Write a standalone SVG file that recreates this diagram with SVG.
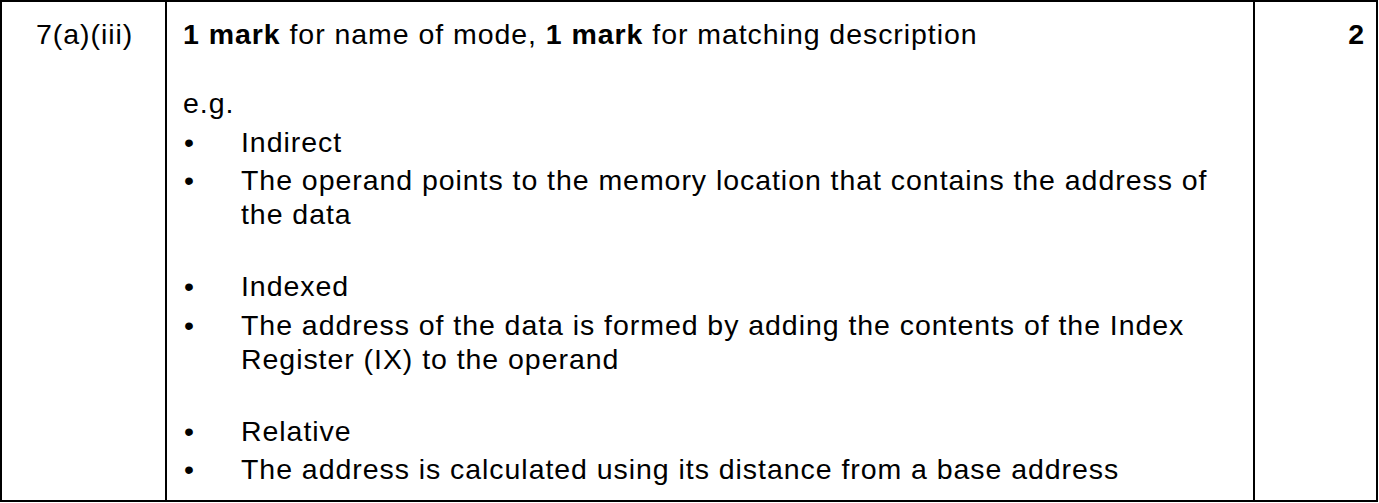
<svg xmlns="http://www.w3.org/2000/svg" width="1379" height="503" viewBox="0 0 1379 503">
<style>
text{font-family:"Liberation Sans",Arial,sans-serif;font-size:28.5px;letter-spacing:0.95px;fill:#000}
.b{font-weight:bold}
line{stroke:#000;stroke-width:2}
</style>
<rect x="0" y="0" width="1379" height="503" fill="#fff"/>
<g id="grid">
<rect x="1" y="1" width="1376" height="500" fill="none" stroke="#000" stroke-width="2"/>
<line x1="166" y1="1" x2="166" y2="501"/>
<line x1="1254" y1="1" x2="1254" y2="501"/>
</g>
<text x="36" y="44">7(a)(iii)</text>
<text x="183" y="44"><tspan class="b">1 mark</tspan> for name of mode, <tspan class="b">1 mark</tspan> for matching description</text>
<text x="1365" y="44" class="b" text-anchor="end">2</text>
<text x="183" y="113">e.g.</text>
<g>
<text x="184" y="152">•</text><text x="241" y="152">Indirect</text>
<text x="184" y="190">•</text><text x="241" y="190">The operand points to the memory location that contains the address of</text>
<text x="241" y="224">the data</text>
<text x="184" y="296">•</text><text x="241" y="296">Indexed</text>
<text x="184" y="335">•</text><text x="241" y="335">The address of the data is formed by adding the contents of the Index</text>
<text x="241" y="369">Register (IX) to the operand</text>
<text x="184" y="441">•</text><text x="241" y="441">Relative</text>
<text x="184" y="479">•</text><text x="241" y="479">The address is calculated using its distance from a base address</text>
</g>
</svg>
